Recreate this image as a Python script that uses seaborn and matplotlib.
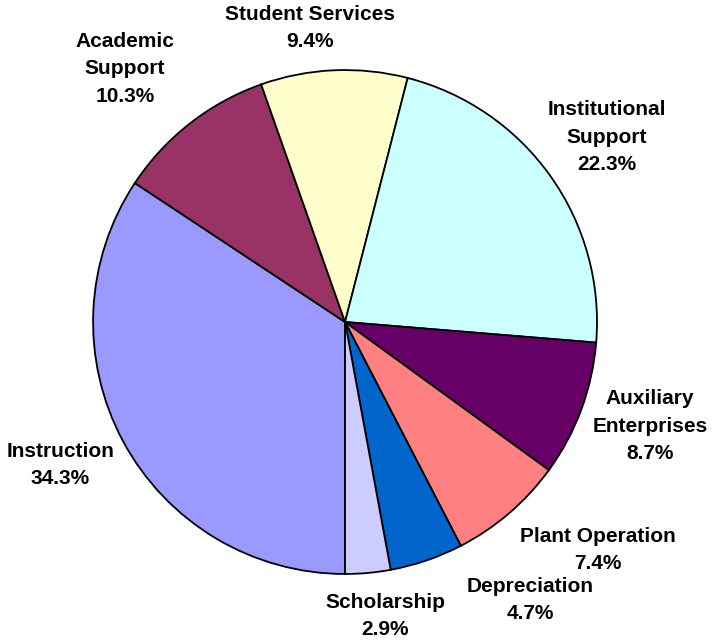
import matplotlib
matplotlib.use("Agg")
import matplotlib.pyplot as plt
import seaborn as sns

# Data (clockwise from 6 o'clock)
categories = ["Instruction", "Academic\nSupport", "Student Services", "Institutional\nSupport",
              "Auxiliary\nEnterprises", "Plant Operation", "Depreciation", "Scholarship"]
shares = [34.3, 10.3, 9.4, 22.3, 8.7, 7.4, 4.7, 2.9]
colors = ["#9999FF", "#993366", "#FFFFCC", "#CCFFFF", "#660066", "#FF8080", "#0066CC", "#CCCCFF"]

# Label centers (axes data units, pie radius = 1)
label_pos = [(-1.131, -0.567), (-0.873, 1.005), (-0.139, 1.167), (1.04, 0.734),
             (1.21, -0.413), (1.004, -0.905), (0.734, -1.103), (0.159, -1.167)]

sns.set_theme(style="white")
plt.rcParams["font.family"] = ["Liberation Sans", "DejaVu Sans"]

fig = plt.figure(figsize=(7.12, 6.41), dpi=100)
ax = fig.add_axes([0, 0, 1, 1])
ax.pie(shares, colors=colors, startangle=270, counterclock=False,
       wedgeprops=dict(edgecolor="black", linewidth=1.3))

for cat, val, (x, y) in zip(categories, shares, label_pos):
    ax.text(x, y, f"{cat}\n{val:.1f}%", ha="center", va="center",
            fontsize=15, fontweight="bold", linespacing=1.55, color="black")

ax.set_xlim(-1.369, 1.456)
ax.set_ylim(-1.266, 1.278)
ax.set_aspect("equal")
ax.axis("off")
fig.savefig("out.png", dpi=100, facecolor="white")
